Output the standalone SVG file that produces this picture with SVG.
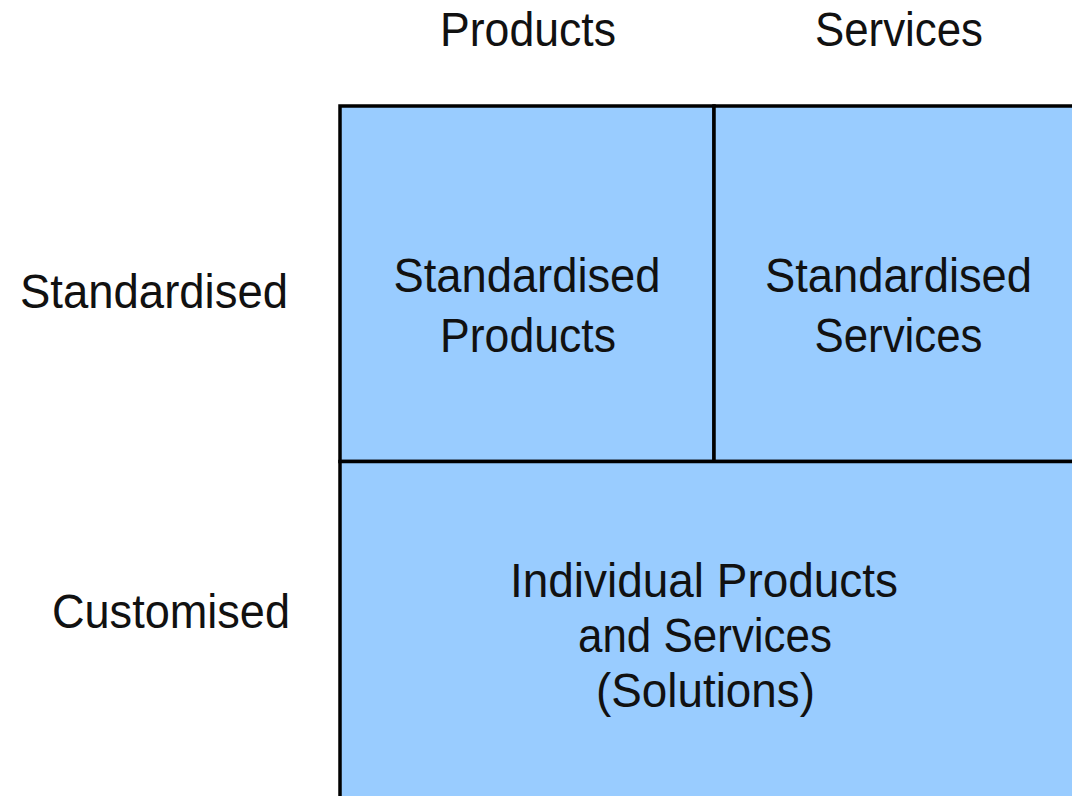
<svg xmlns="http://www.w3.org/2000/svg" width="1072" height="796" viewBox="0 0 1072 796">
<style>
.cell{fill:#99CCFF;stroke:#000;stroke-width:3.5}
.t{font-family:"Liberation Sans",Arial,sans-serif;font-size:48px;fill:#111;text-anchor:middle}
.l{font-family:"Liberation Sans",Arial,sans-serif;font-size:48px;fill:#111;text-anchor:start}
</style>
<rect width="1072" height="796" fill="#fff"/>
<g id="header-products"><text class="t" x="528" y="46" textLength="176" lengthAdjust="spacingAndGlyphs">Products</text></g>
<g id="header-services"><text class="t" x="899" y="46" textLength="168" lengthAdjust="spacingAndGlyphs">Services</text></g>
<g id="row-standardised"><text class="l" x="20" y="308" textLength="268" lengthAdjust="spacingAndGlyphs">Standardised</text></g>
<g id="row-customised"><text class="l" x="52" y="628" textLength="238" lengthAdjust="spacingAndGlyphs">Customised</text></g>
<g id="cell-standardised-products">
<rect class="cell" x="340" y="106" width="374" height="355.5"/>
<text class="t" x="527" y="292" textLength="267" lengthAdjust="spacingAndGlyphs">Standardised</text>
<text class="t" x="528" y="352" textLength="176" lengthAdjust="spacingAndGlyphs">Products</text>
</g>
<g id="cell-standardised-services">
<rect class="cell" x="714" y="106" width="400" height="355.5"/>
<text class="t" x="898.5" y="292" textLength="267" lengthAdjust="spacingAndGlyphs">Standardised</text>
<text class="t" x="898.5" y="352" textLength="168" lengthAdjust="spacingAndGlyphs">Services</text>
</g>
<g id="cell-solutions">
<rect class="cell" x="340" y="461.5" width="774" height="400"/>
<text class="t" x="704" y="597" textLength="388" lengthAdjust="spacingAndGlyphs">Individual Products</text>
<text class="t" x="705" y="652" textLength="254" lengthAdjust="spacingAndGlyphs">and Services</text>
<text class="t" x="705.5" y="707" textLength="219" lengthAdjust="spacingAndGlyphs">(Solutions)</text>
</g>
<g id="connectors"/>
</svg>
